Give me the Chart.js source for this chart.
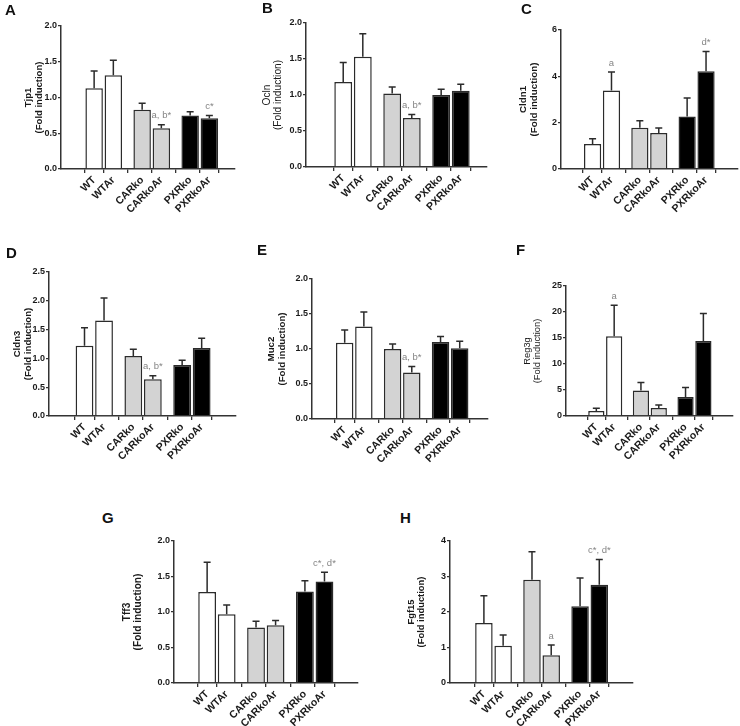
<!DOCTYPE html>
<html><head><meta charset="utf-8">
<script src="https://cdn.jsdelivr.net/npm/chart.js@4.4.1/dist/chart.umd.min.js"></script>
<style>
html,body{margin:0;padding:0;background:#fff;}
body{width:740px;height:726px;position:relative;overflow:hidden;font-family:"Liberation Sans",Arial,sans-serif;}
.letter{position:absolute;font:bold 15px/15px "Liberation Sans",Arial,sans-serif;color:#111;}
canvas{position:absolute;}
</style></head><body>
<script>
// ---------- data ----------
const categories = ['WT','WTAr','CARko','CARkoAr','PXRko','PXRkoAr'];
const groupOf    = [0,0,1,1,2,2];

const tjp1Mean  = [1.13, 1.31, 0.83, 0.57, 0.75, 0.71];
const tjp1Err   = [0.24, 0.21, 0.09, 0.05, 0.05, 0.04];
const tjp1Notes = ['', '', '', 'a, b*', '', 'c*'];
const tjp1Ticks = ['0.0','0.5','1.0','1.5','2.0'];

const oclnMean  = [1.18, 1.53, 1.02, 0.68, 1.00, 1.06];
const oclnErr   = [0.27, 0.32, 0.09, 0.05, 0.08, 0.09];
const oclnNotes = ['', '', '', 'a, b*', '', ''];
const oclnTicks = ['0.0','0.5','1.0','1.5','2.0'];

const cldn1Mean  = [1.08, 3.39, 1.78, 1.55, 2.27, 4.22];
const cldn1Err   = [0.23, 0.80, 0.30, 0.22, 0.80, 0.85];
const cldn1Notes = ['', 'a', '', '', '', 'd*'];
const cldn1Ticks = ['0','2','4','6'];

const cldn3Mean  = [1.22, 1.66, 1.04, 0.64, 0.885, 1.18];
const cldn3Err   = [0.31, 0.39, 0.12, 0.06, 0.085, 0.17];
const cldn3Notes = ['', '', '', 'a, b*', '', ''];
const cldn3Ticks = ['0.0','0.5','1.0','1.5','2.0','2.5'];

const muc2Mean  = [1.09, 1.32, 1.00, 0.665, 1.10, 1.01];
const muc2Err   = [0.18, 0.21, 0.07, 0.085, 0.08, 0.10];
const muc2Notes = ['', '', '', 'a, b*', '', ''];
const muc2Ticks = ['0.0','0.5','1.0','1.5','2.0'];

const reg3gMean  = [0.96, 15.35, 4.92, 1.53, 3.64, 14.4];
const reg3gErr   = [0.51, 5.95, 1.54, 0.57, 1.86, 5.3];
const reg3gNotes = ['', 'a', '', '', '', ''];
const reg3gTicks = ['0','5','10','15','20','25'];

const tff3Mean  = [1.28, 0.97, 0.78, 0.815, 1.29, 1.43];
const tff3Err   = [0.42, 0.13, 0.09, 0.065, 0.15, 0.13];
const tff3Notes = ['', '', '', '', '', 'c*, d*'];
const tff3Ticks = ['0.0','0.5','1.0','1.5','2.0'];

const fgf15Mean  = [1.69, 1.05, 2.91, 0.78, 2.16, 2.77];
const fgf15Err   = [0.77, 0.30, 0.79, 0.29, 0.80, 0.71];
const fgf15Notes = ['', '', '', 'a', '', 'c*, d*'];
const fgf15Ticks = ['0','1','2','3','4'];

// ---------- layout / style ----------
const FONT = '"Liberation Sans", Arial, sans-serif';
const groupFill = ['#ffffff', '#d3d3d3', '#000000'];
const barPos = categories.map((c, i) => groupOf[i] * 2.5 + (i % 2));

const panels = [
  {L:'A', gene:'Tjp1',  mean:tjp1Mean,  err:tjp1Err,  notes:tjp1Notes,  ticks:tjp1Ticks,  bold:true,  axisX:61,    topY:26,    zeroY:169.3, rightX:235, xmin:-0.97, xmax:6.58, ts:9.5,  t2:22,   lx:5,   ly:2},
  {L:'B', gene:'Ocln',  mean:oclnMean,  err:oclnErr,  notes:oclnNotes,  ticks:oclnTicks,  bold:false, axisX:305.7, topY:23.3,  zeroY:167.7, rightX:487, xmin:-1.13, xmax:6.57, ts:10.2, t2:27.7, lx:262, ly:0},
  {L:'C', gene:'Cldn1', mean:cldn1Mean, err:cldn1Err, notes:cldn1Notes, ticks:cldn1Ticks, bold:true,  axisX:560.7, topY:30,    zeroY:169.3, rightX:738, xmin:-0.89, xmax:6.91, ts:9.8,  t2:26.5, lx:521, ly:1},
  {L:'D', gene:'Cldn3', mean:cldn3Mean, err:cldn3Err, notes:cldn3Notes, ticks:cldn3Ticks, bold:true,  axisX:49.3,  topY:271.7, zeroY:415.7, rightX:236.7, xmin:-1.02, xmax:6.96, ts:9.6,  t2:21,   lx:6,   ly:245},
  {L:'E', gene:'Muc2',  mean:muc2Mean,  err:muc2Err,  notes:muc2Notes,  ticks:muc2Ticks,  bold:true,  axisX:312,   topY:279,   zeroY:419.3, rightX:488, xmin:-0.94, xmax:6.71, ts:9.7,  t2:29.5, lx:257, ly:242},
  {L:'F', gene:'Reg3g', mean:reg3gMean, err:reg3gErr, notes:reg3gNotes, ticks:reg3gTicks, bold:false, axisX:566.3, topY:286.3, zeroY:416.7, rightX:733, xmin:-0.92, xmax:6.88, ts:9.4,  t2:28.5, lx:516, ly:242},
  {L:'G', gene:'Tff3',  mean:tff3Mean,  err:tff3Err,  notes:tff3Notes,  ticks:tff3Ticks,  bold:true,  axisX:174.3, topY:541,   zeroY:683.3, rightX:358, xmin:-0.91, xmax:6.93, ts:10.2, t2:35.6, lx:102, ly:510},
  {L:'H', gene:'Fgf15', mean:fgf15Mean, err:fgf15Err, notes:fgf15Notes, ticks:fgf15Ticks, bold:true,  axisX:450,   topY:541,   zeroY:682.7, rightX:633, xmin:-0.97, xmax:6.96, ts:9.4,  t2:28.3, lx:400, ly:510}
];

function makePanel(p) {
  const W = 60, PT = 12, PR = 3, HB = 62;
  const left = p.axisX - W;
  const top = p.topY - PT;
  const width = Math.round(p.rightX - left + PR);
  const height = Math.round(p.zeroY - top + HB);
  const cv = document.createElement('canvas');
  cv.style.left = left + 'px';
  cv.style.top = top + 'px';
  cv.width = width; cv.height = height;
  cv.style.width = width + 'px'; cv.style.height = height + 'px';
  document.body.appendChild(cv);

  const lbl = document.createElement('div');
  lbl.className = 'letter';
  lbl.textContent = p.L;
  lbl.style.left = p.lx + 'px';
  lbl.style.top = p.ly + 'px';
  document.body.appendChild(lbl);

  const tickVals = p.ticks.map(Number);
  const yMax = tickVals[tickVals.length - 1];
  const lh = 1.12 * p.ts;
  const t1 = p.t2 + lh;

  const errPlugin = {
    id: 'errbars' + p.L,
    afterDatasetsDraw(chart) {
      const ctx = chart.ctx;
      const meta = chart.getDatasetMeta(0);
      const ys = chart.scales.y;
      ctx.save();
      ctx.strokeStyle = '#2b2b2b';
      ctx.lineWidth = 1.5;
      meta.data.forEach((el, i) => {
        const x = el.x;
        const y1 = ys.getPixelForValue(p.mean[i] + p.err[i]);
        ctx.beginPath();
        ctx.moveTo(x, el.y);
        ctx.lineTo(x, y1);
        ctx.moveTo(x - 3.5, y1);
        ctx.lineTo(x + 3.5, y1);
        ctx.stroke();
        if (p.notes[i]) {
          ctx.fillStyle = '#858585';
          ctx.font = '9.5px ' + FONT;
          ctx.textAlign = 'center';
          ctx.textBaseline = 'middle';
          ctx.fillText(p.notes[i], x, y1 - 9);
        }
      });
      ctx.restore();
    }
  };

  new Chart(cv, {
    type: 'bar',
    data: {
      datasets: [{
        data: p.mean.map((v, i) => ({x: barPos[i], y: v})),
        backgroundColor: groupOf.map(g => groupFill[g]),
        borderColor: '#2b2b2b',
        borderWidth: 1.5,
        barPercentage: 0.91,
        categoryPercentage: 1
      }]
    },
    options: {
      responsive: false,
      animation: false,
      devicePixelRatio: 1,
      layout: {padding: {top: PT, right: PR, left: 0, bottom: 0}},
      plugins: {legend: {display: false}, tooltip: {enabled: false}},
      scales: {
        x: {
          type: 'linear', min: p.xmin, max: p.xmax,
          afterFit(s) { s.height = HB; },
          afterBuildTicks(s) { s.ticks = barPos.map(v => ({value: v})); },
          ticks: {autoSkip: false, minRotation: 45, maxRotation: 45, padding: 1,
                  color: '#1a1a1a', font: {family: FONT, size: 10.5, weight: 'bold'},
                  callback: (v, i) => categories[i]},
          grid: {drawOnChartArea: false, drawTicks: true, tickLength: 4, color: '#333', lineWidth: 1.3},
          border: {display: true, color: '#333', width: 1.5}
        },
        y: {
          min: 0, max: yMax,
          afterFit(s) { s.width = W; },
          afterBuildTicks(s) { s.ticks = tickVals.map(v => ({value: v})); },
          ticks: {padding: 1, color: '#1a1a1a', font: {family: FONT, size: 9, weight: 'bold'},
                  callback: (v, i) => p.ticks[i]},
          grid: {drawOnChartArea: false, drawTicks: true, tickLength: 3, color: '#333', lineWidth: 1.3},
          border: {display: true, color: '#333', width: 1.5},
          title: {
            display: true,
            text: [p.gene, '(Fold induction)'],
            color: '#1a1a1a',
            font: {family: FONT, size: p.ts, weight: p.bold ? 'bold' : 'normal', lineHeight: lh / p.ts},
            padding: {top: W - t1 - lh / 2, bottom: 0}
          }
        }
      }
    },
    plugins: [errPlugin]
  });
}

panels.forEach(makePanel);
</script>
</body></html>
